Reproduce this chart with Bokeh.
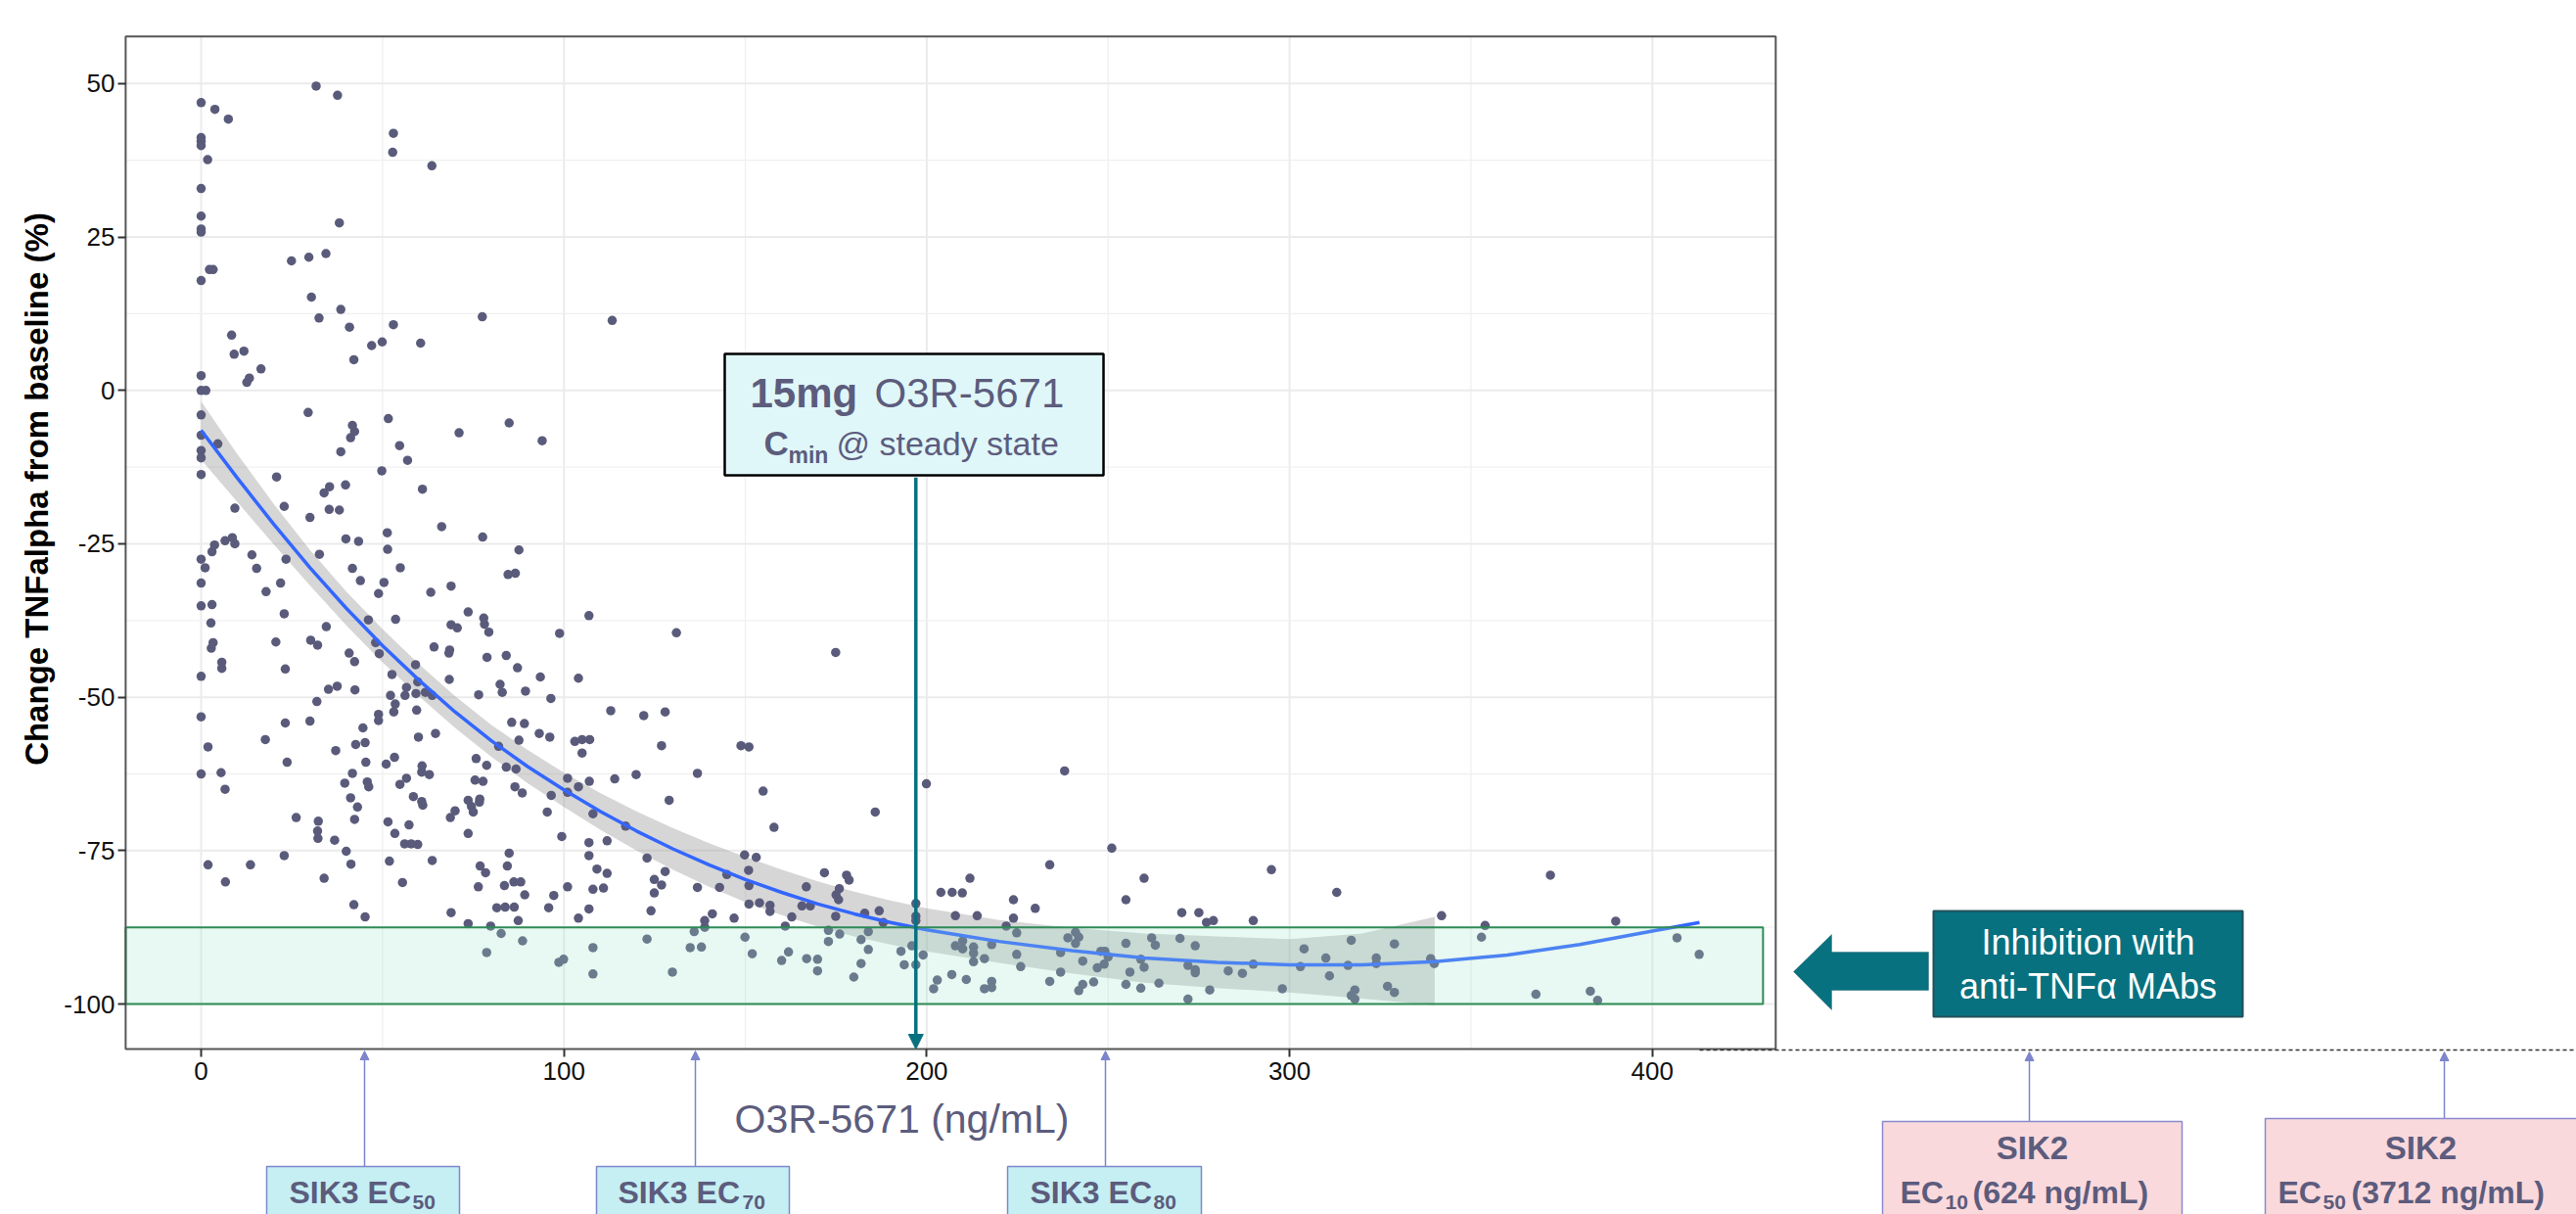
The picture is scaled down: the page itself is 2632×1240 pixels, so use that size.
from bokeh.plotting import figure
from bokeh.models import (FixedTicker, Label, BoxAnnotation, Arrow, NormalHead,
                          PolyAnnotation)
from bokeh.embed import file_html
from bokeh.resources import INLINE

# ---------------- data ----------------
conc_a = [0, 3.8, 7.5, 31.7, 37.6, 0, 0, 0, 1.8, 53, 52.8, 63.6, 0, 0, 0, 0, 38.1, 24.9, 29.7, 34.4,
          2.3, 3.3, 0, 30.4, 38.5, 32.5, 40.9, 53, 77.5, 113.3, 8.4, 9.1, 11.8, 16.5, 12.6, 13.3,
          47, 49.9, 60.5, 42.1, 0, 0, 1.3, 0, 29.5, 51.6, 84.9, 41.7, 42.3, 41.2, 71.1, 94, 0, 4.6,
          0, 0, 54.7, 38.5, 56.9, 49.8, 0, 20.8, 35.4, 33.9, 39.8, 61, 9.3, 22.9, 30, 35.3, 38.1,
          66.3, 51.3, 77.6, 6.6, 8.6, 3.7, 9.3, 3.0, 39.9, 43.4, 14.0, 23.4, 32.6, 51.4, 87.6, 0]
chg_a = [46.9, 45.8, 44.2, 49.6, 48.1, 41.2, 40.6, 39.9, 37.6, 41.9, 38.8, 36.6, 32.9, 28.4, 26.3,
         25.8, 27.3, 21.1, 21.7, 22.3, 19.7, 19.7, 17.9, 15.2, 13.2, 11.8, 10.3, 10.7, 12.0, 11.4,
         9.0, 5.9, 6.4, 3.5, 1.3, 2.0, 7.3, 7.9, 7.7, 5.0, 2.4, 0, 0, -4.0, -3.6, -4.6, -5.3, -5.7,
         -6.7, -7.7, -6.9, -8.2, -7.3, -8.7, -9.8, -11.0, -9.0, -10.0, -11.4, -13.1, -13.7, -14.1,
         -15.7, -16.7, -15.4, -16.1, -19.2, -18.9, -20.7, -19.4, -19.5, -22.2, -23.2, -23.9, -24.5,
         -24.0, -25.2, -25.0, -26.3, -24.2, -24.6, -26.8, -27.5, -26.7, -25.9, -26.0, -27.5]

conc_b = [1.1, 15.3, 41.7, 54.9, 0, 21.9, 17.9, 43.9, 50.4, 48.9,
          63.3, 68.9, 84.6, 86.6, 0, 3.0, 2.7, 22.9, 46.1, 53.6,
          73.6, 77.9, 78.1, 79.3, 68.9, 70.6, 106.9, 98.8, 131, 34.5,
          3.3, 2.8, 20.6, 30.2, 32.1, 48.1, 49.1, 40.8, 42.3, 64.2,
          68.5, 68.3, 78.8, 84.1, 5.7, 5.7, 23.2, 0, 59.1, 87.2,
          52.6, 59.7, 68.4, 93.5, 104, 35.1, 37.5, 42.4, 56.6, 56.2,
          59.2, 61.8, 63.7, 52.2, 82.4, 83.0, 76.5, 89.4, 96.4, 31.9,
          53.5, 53.1, 59.4, 0, 30, 23.2, 48.9, 48.9, 112.9, 122,
          127.9, 85.6, 89.1, 44.6, 17.7, 1.9, 37.1, 42.6, 45.2, 59.9,
          64.6, 93.2, 96.1, 87.6, 82.0, 103, 105, 107.1, 105, 126.9,
          23.7, 45.4, 51, 53.3, 75.8, 78.7, 84.1, 86.8, 0, 5.5,
          41.7, 39.6, 45.8, 46.2, 56.6, 54.8, 60.9, 60.8, 62.9, 75.5,
          77.7, 101, 101, 104, 107, 114, 119.9, 86.5, 88.5, 6.6,
          41.2, 58.5, 60.8, 61.1, 76.8, 76.7, 73.6, 74.5, 75, 96.5,
          129, 43.1, 42.3, 26.2, 32.3, 32.1, 32.2, 68.7, 70, 51.5,
          57.3, 53.4, 73.6, 95.4, 108, 117, 99.4, 106.9, 111.9, 36.8,
          56.1, 57.9, 59.7, 22.9, 40, 84.9, 106.9, 122.9, 1.9, 13.6,
          41.3, 51.9, 63.7, 76.9, 78.4, 84.4, 109.1, 111.9, 127.9, 6.7,
          33.9, 55.5, 76.4, 83.6, 86.2, 88.1, 89.2, 101, 108, 110.9,
          124.9, 126.9, 124.9, 97.2, 42.1, 45.2, 68.9, 81.5, 83.8, 86.3,
          95.8, 106.9, 104, 124, 73.6, 79.8, 87.4, 82.7, 88.6, 78.7,
          98.6, 99.9, 108, 108, 122.9, 129.9]
chg_b = [-28.9, -29.0, -29.0, -28.9, -31.4, -31.4, -32.8, -31.0, -31.3, -33.1,
         -32.9, -31.9, -30.0, -29.8, -35.1, -34.9, -37.9, -36.4, -37.4, -37.3,
         -36.1, -37.1, -38.1, -39.4, -38.2, -38.7, -36.7, -39.6, -39.5, -38.5,
         -41.1, -42.0, -41.0, -40.7, -41.5, -41.1, -42.9, -42.8, -44.2, -41.8,
         -42.3, -42.8, -43.5, -43.2, -44.3, -45.3, -45.4, -46.6, -44.7, -45.2,
         -46.3, -47.5, -47.1, -46.7, -46.9, -48.7, -48.2, -48.8, -48.4, -49.7,
         -49.4, -49.2, -49.7, -49.7, -47.9, -49.2, -49.6, -49.0, -50.2, -50.7,
         -51.1, -52.4, -52.1, -53.2, -53.9, -54.2, -52.8, -53.8, -52.2, -53.0,
         -52.4, -54.1, -54.3, -55.0, -56.9, -58.1, -58.7, -57.7, -57.4, -56.5,
         -55.9, -55.9, -56.5, -57.0, -58.0, -57.2, -56.9, -56.9, -59.1, -57.9,
         -60.6, -60.6, -60.9, -59.8, -60.0, -61.1, -61.4, -61.7, -62.5, -62.3,
         -62.4, -64.0, -63.8, -64.6, -63.2, -64.2, -61.2, -62.2, -62.6, -63.5,
         -63.7, -63.2, -65.5, -64.6, -63.7, -63.3, -62.6, -64.6, -65.6, -65.0,
         -66.4, -66.2, -67.0, -67.6, -66.6, -67.1, -66.8, -67.8, -68.7, -66.0,
         -66.8, -67.9, -69.9, -69.6, -70.2, -71.8, -73.0, -69.6, -68.5, -70.3,
         -70.8, -72.2, -72.2, -68.7, -69.0, -71.0, -72.7, -73.7, -73.4, -73.3,
         -73.9, -73.9, -74.0, -75.8, -75.1, -75.4, -75.8, -76.2, -77.3, -77.3,
         -77.2, -76.7, -76.6, -77.5, -78.6, -77.5, -78.0, -78.7, -78.4, -80.1,
         -79.5, -80.2, -80.9, -80.7, -80.1, -80.1, -82.2, -80.9, -81.3, -81.1,
         -79.7, -80.6, -81.9, -82.3, -83.8, -85.8, -85.1, -84.3, -84.2, -84.2,
         -84.3, -84.5, -86.0, -84.8, -86.9, -87.3, -86.4, -88.5, -89.7, -91.6,
         -93.2, -92.7, -90.8, -95.1, -89.4, -94.8]

conc_c = [174.9, 148.8, 151, 136.8, 154.9, 199.9, 238, 185.8, 157.9, 251,
          233.9, 149.8, 153, 150.9, 144.9, 171.8, 177.9, 178.6, 211.9, 259.9,
          136.8, 142.9, 151, 166.8, 175.9, 203.9, 207, 209.8, 223.9, 254.9,
          175, 175.7, 140.9, 138.8, 138.8, 146.9, 151, 153.9, 156.8, 156.8,
          165.6, 167.9, 162.8, 161, 174.9, 182.9, 186.9, 188, 197, 197,
          197, 229.9, 207.9, 213.9, 223.9, 221.9, 270.3, 135.9, 134.8, 137.9,
          149.9, 151.9, 160, 161.9, 166.9, 169.9, 169.9, 172.9, 172.9, 176,
          179.9, 181.9, 181.9, 183.9, 183.9, 192.9, 193.8, 195.9, 197, 199,
          201.9, 202.9, 206.9, 207.9, 209.9, 209.9, 210.9, 212.9, 212.9, 212.9,
          215.9, 215.9, 217.9, 217.9, 217.9, 224.8, 224.8, 225.9, 233.9, 236.9,
          236.9, 238.9, 241, 241, 241.9, 241.9, 243, 243, 246, 247,
          248, 249.1, 250, 248.9, 254.9, 256, 254.9, 259, 259.9, 259,
          262, 263, 264, 269.8]
chg_c = [-42.7, -57.9, -58.1, -62.4, -65.3, -64.1, -62.0, -68.7, -71.2, -74.6,
         -77.3, -75.7, -76.1, -78.2, -78.9, -78.6, -79.0, -79.8, -79.5, -79.5,
         -81.0, -81.0, -80.7, -80.9, -81.2, -81.8, -81.8, -81.9, -83.0, -83.0,
         -82.2, -83.0, -85.3, -86.4, -87.5, -86.0, -83.7, -83.5, -83.9, -84.9,
         -84.0, -84.0, -85.8, -87.3, -85.7, -85.2, -84.8, -86.7, -83.6, -85.7,
         -86.4, -84.4, -85.6, -85.6, -86.0, -87.3, -85.1, -88.2, -90.8, -90.7,
         -89.1, -91.8, -92.9, -91.5, -92.6, -92.7, -94.6, -88.0, -89.8, -88.6,
         -95.6, -89.5, -93.4, -88.2, -91.1, -91.4, -93.6, -90.5, -93.6, -92.0,
         -97.5, -96.1, -95.2, -90.5, -89.7, -91.0, -96.0, -90.7, -91.7, -93.1,
         -92.6, -97.5, -90.3, -96.3, -97.3, -88.4, -91.9, -93.9, -96.3, -91.6,
         -94.8, -89.2, -88.3, -90.1, -89.1, -97.8, -96.8, -93.0, -96.4, -94.1,
         -91.4, -91.4, -92.3, -93.5, -90.1, -94.8, -96.8, -92.7, -94.0, -97.4,
         -89.2, -90.4, -96.6, -89.3]

conc_d = [295, 313, 371.9, 275, 277.1, 279, 290, 341.9, 353.9, 389.9,
          274, 272, 274, 274, 272, 278, 283.1, 287, 290, 298,
          303, 304, 310, 311, 316.1, 317, 317, 318, 318, 323.9,
          323.9, 327, 328.9, 328.9, 338.9, 339.9, 352.9, 367.9, 382.9, 384.9,
          406.8, 412.9]
chg_d = [-78.1, -81.8, -79.0, -85.1, -86.7, -86.4, -86.4, -85.6, -87.2, -86.5,
         -90.5, -93.7, -94.4, -94.9, -99.2, -97.7, -94.6, -95.0, -93.5, -97.5,
         -93.9, -91.0, -92.5, -95.4, -93.7, -89.6, -98.6, -97.7, -99.2, -92.5,
         -93.4, -97.1, -90.2, -98.1, -92.6, -93.4, -89.1, -98.4, -97.9, -99.4,
         -89.2, -91.9]

# smooth fit (blue) and its confidence band
fit_x = [0, 10, 20, 30, 40, 50, 60, 70, 80, 90, 100, 110, 120, 130, 140, 150, 160, 170, 180,
         190, 200, 220, 240, 260, 280, 300, 320, 340, 360, 380, 400, 413]
fit_y = [-6.5, -14.3, -21.8, -28.9, -35.5, -41.6, -47.2, -52.4, -57.1, -61.3, -65.1, -68.6,
         -71.8, -74.7, -77.3, -79.7, -81.8, -83.7, -85.3, -86.7, -87.9, -89.8, -91.3, -92.5,
         -93.2, -93.6, -93.6, -93.1, -92.0, -90.3, -88.1, -86.7]
band_x = [0, 10, 20, 30, 40, 50, 60, 70, 80, 90, 100, 110, 120, 130, 140, 150, 160, 170, 180,
          190, 200, 220, 240, 260, 280, 300, 320, 340]
band_lo = [-11.3, -18.2, -25.1, -31.8, -38.3, -44.3, -49.8, -55.0, -59.7, -64.0, -67.9, -71.6,
           -75.0, -78.1, -80.9, -83.4, -85.5, -87.4, -89.0, -90.3, -91.4, -93.3, -95.0, -96.5,
           -97.4, -98.1, -99.1, -100.2]
band_hi = [-1.8, -10.4, -18.5, -26.0, -32.8, -38.9, -44.6, -49.8, -54.5, -58.6, -62.3, -65.6,
           -68.6, -71.3, -73.8, -76.0, -78.1, -80.0, -81.7, -83.1, -84.4, -86.3, -87.6, -88.5,
           -89.0, -89.4, -88.5, -85.8]

# anti-TNF MAb inhibition band and the 15 mg Cmin
mab_lo, mab_hi, mab_x_end = -100, -87.5, 430.5
cmin_conc = 197

x_ticks = [0, 100, 200, 300, 400]
x_minor = [50, 150, 250, 350]
y_ticks = [-100, -75, -50, -25, 0, 25, 50]
y_minor = [-87.5, -62.5, -37.5, -12.5, 12.5, 37.5]
y_tick_text = {t: str(t) for t in y_ticks}

# panel limits (data) and whole-canvas ranges
xlim = (-20.8, 434.0)
ylim = (-107.33, 57.67)
W, H = 2632, 1240

# ---------------- styling ----------------
SLATE = "#5C5C7D"
TEAL = "#08717F"
PT = "#5A5B7B"
FONT = "Liberation Sans"

all_x = conc_a + conc_b + conc_c + conc_d
all_y = chg_a + chg_b + chg_c + chg_d

p = figure(width=W, height=H, x_range=(-55.30, 654.71), y_range=(-134.29, 63.54),
           output_backend="svg", toolbar_location=None,
           min_border_left=0, min_border_right=0, min_border_top=0, min_border_bottom=0)
p.background_fill_color = "white"
p.border_fill_color = "white"
p.outline_line_color = None
p.grid.visible = False

# axes fixed at the panel edges
p.xaxis.fixed_location = ylim[0]
p.yaxis.fixed_location = xlim[0]
p.xaxis.ticker = FixedTicker(ticks=x_ticks)
p.yaxis.ticker = FixedTicker(ticks=y_ticks)
p.yaxis.major_label_overrides = y_tick_text
for ax in (p.xaxis[0], p.yaxis[0]):
    ax.axis_line_color = None
    ax.major_tick_line_color = "#333333"
    ax.major_tick_line_width = 2
    ax.major_tick_out = 8
    ax.major_tick_in = 0
    ax.minor_tick_line_color = None
    ax.major_label_text_font = FONT
    ax.major_label_text_font_size = "26px"
    ax.major_label_text_color = "#111111"
p.xaxis.major_label_standoff = 5
p.yaxis.major_label_standoff = 3

# grid (major + minor) restricted to the panel
p.segment(x0=x_ticks, y0=[ylim[0]] * len(x_ticks), x1=x_ticks, y1=[ylim[1]] * len(x_ticks),
          line_color="#EBEBEB", line_width=2)
p.segment(x0=x_minor, y0=[ylim[0]] * len(x_minor), x1=x_minor, y1=[ylim[1]] * len(x_minor),
          line_color="#F0F0F0", line_width=1.3)
p.segment(x0=[xlim[0]] * len(y_ticks), y0=y_ticks, x1=[xlim[1]] * len(y_ticks), y1=y_ticks,
          line_color="#EBEBEB", line_width=2)
p.segment(x0=[xlim[0]] * len(y_minor), y0=y_minor, x1=[xlim[1]] * len(y_minor), y1=y_minor,
          line_color="#F0F0F0", line_width=1.3)

p.varea(x=band_x, y1=band_lo, y2=band_hi, fill_color="#999999", fill_alpha=0.4)
p.scatter(all_x, all_y, size=9.5, fill_color=PT, line_color=None)
p.line(fit_x, fit_y, line_color="#3366FF", line_width=3.5)
p.quad(left=[xlim[0]], right=[mab_x_end], bottom=[mab_lo], top=[mab_hi],
       fill_color="#9EE2C8", fill_alpha=0.24, line_color="#2E8B57", line_width=2)
# panel border
p.quad(left=[xlim[0]], right=[xlim[1]], bottom=[ylim[0]], top=[ylim[1]],
       fill_color=None, line_color="#555555", line_width=2)


# page pixel -> screen units (frame == whole canvas)
def sx(px):
    return px


def sy(py):
    return H - py


def lab(text, px, base, size, bold=False, color=SLATE, align="left"):
    """place a text by its alphabetic baseline (page px), drawn with a 'middle' anchor"""
    mid = base - 0.3465 * size
    p.add_layout(Label(x=sx(px), y=sy(mid), x_units="screen", y_units="screen", text=text,
                       text_font=FONT, text_font_size=f"{size}px",
                       text_font_style="bold" if bold else "normal", text_color=color,
                       text_align=align, text_baseline="middle"))


def box(l, r, t, b, fill, line, lw=1.5):
    p.add_layout(BoxAnnotation(left=sx(l), right=sx(r), top=sy(t), bottom=sy(b),
                               left_units="screen", right_units="screen",
                               top_units="screen", bottom_units="screen",
                               fill_color=fill, fill_alpha=1.0, line_color=line,
                               line_width=lw, line_alpha=1.0))


def up_arrow(px, y0, y1, color="#7D86CC"):
    p.add_layout(Arrow(x_start=sx(px), y_start=sy(y0), x_end=sx(px), y_end=sy(y1),
                       start_units="screen", end_units="screen",
                       end=NormalHead(size=9, fill_color=color, line_color=color),
                       line_color=color, line_width=1.5))


# axis titles
p.add_layout(Label(x=sx(37), y=sy(499), x_units="screen", y_units="screen",
                   text="Change TNFalpha from baseline (%)", text_font=FONT,
                   text_font_size="33px", text_font_style="bold", text_color="#000000",
                   text_align="center", text_baseline="middle", angle=1.5707963))
lab("O3R-5671 (ng/mL)", 921, 1157, 41, align="center")

# Cmin annotation
p.add_layout(Arrow(x_start=cmin_conc, y_start=-14.2, x_end=cmin_conc, y_end=ylim[0],
                   end=NormalHead(size=15, fill_color=TEAL, line_color=TEAL),
                   line_color=TEAL, line_width=3.5))
box(740, 1127, 361, 485, "#E0F7F9", "#000000", lw=2.5)
lab("15mg", 766, 416, 42, bold=True)
lab("O3R-5671", 893, 416, 42)
lab("C", 780, 464, 35, bold=True)
lab("min", 805, 472, 23, bold=True)
lab("@ steady state", 854, 464, 34)

# anti-TNF MAb call-out
p.add_layout(PolyAnnotation(
    xs=[sx(1832), sx(1871), sx(1871), sx(1970), sx(1970), sx(1871), sx(1871)],
    ys=[sy(992), sy(954), sy(972), sy(972), sy(1011), sy(1011), sy(1031)],
    xs_units="screen", ys_units="screen", fill_color=TEAL, fill_alpha=1.0,
    line_color="#0B4F58", line_width=1))
box(1975, 2291, 930, 1038, TEAL, "#23505A", lw=2)
lab("Inhibition with", 2133, 974, 36, color="white", align="center")
lab("anti-TNF\u03b1 MAbs", 2133, 1019, 36, color="white", align="center")

# dashed secondary axis line
p.add_layout(Arrow(x_start=sx(1736), y_start=sy(1072), x_end=sx(2640), y_end=sy(1072),
                   start_units="screen", end_units="screen", end=None,
                   line_color="#333333", line_width=1.5, line_dash="4 3"))

# SIK3 boxes
for bl, br, ax_, tx, subx, sub in [(272, 469, 372, 295, 421, "50"),
                                   (609, 806, 710, 631, 758, "70"),
                                   (1029, 1227, 1129, 1052, 1178, "80")]:
    up_arrow(ax_, 1191, 1073)
    box(bl, br, 1191, 1250, "#C5EFF3", "#7F88CC")
    lab("SIK3 EC", tx, 1229, 32, bold=True)
    lab(sub, subx, 1235, 21, bold=True)

# SIK2 boxes
for bl, br, top, ax_, cx, ecx, subx, sub, rest, restx in [
        (1923, 2229, 1145, 2073, 2076, 1941, 1987, "10", "(624 ng/mL)", 2015),
        (2314, 2650, 1142, 2497, 2473, 2327, 2373, "50", "(3712 ng/mL)", 2402)]:
    up_arrow(ax_, top, 1074)
    box(bl, br, top, 1250, "#FAD9DC", "#8A8ACF")
    lab("SIK2", cx, 1183, 33, bold=True, align="center")
    lab("EC", ecx, 1229, 32, bold=True)
    lab(sub, subx, 1235, 21, bold=True)
    lab(rest, restx, 1229, 32, bold=True)

open("out.html", "w").write(file_html(p, INLINE))
